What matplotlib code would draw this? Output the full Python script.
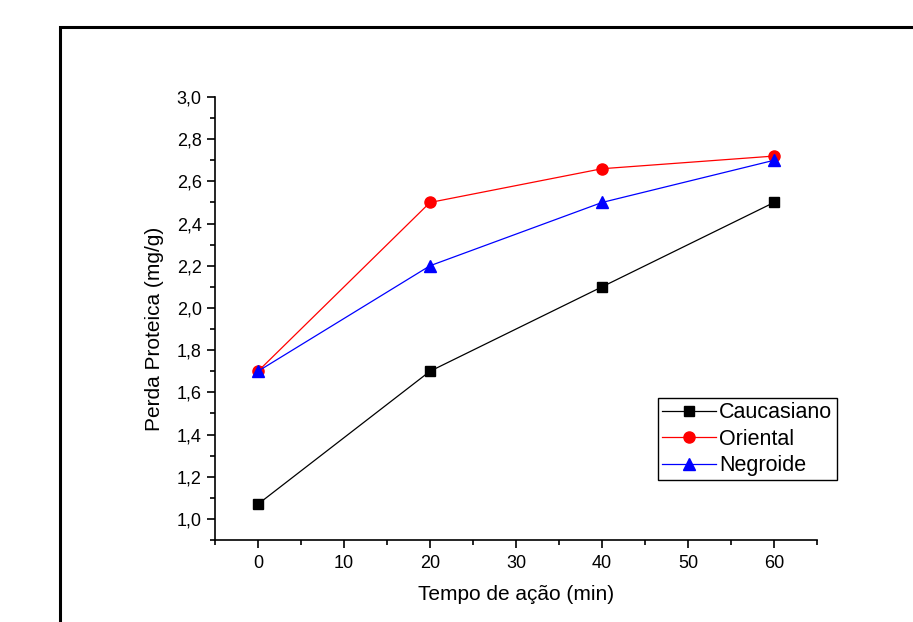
import numpy as np
import matplotlib.pyplot as plt
from matplotlib.patches import Rectangle
from matplotlib.ticker import MultipleLocator, FuncFormatter

plt.rcParams['font.family'] = ['Liberation Sans', 'DejaVu Sans']

tempo = [0, 20, 40, 60]
caucasiano = [1.07, 1.70, 2.10, 2.50]
oriental = [1.70, 2.50, 2.66, 2.72]
negroide = [1.70, 2.20, 2.50, 2.70]

W, H = 913, 622
fig = plt.figure(figsize=(W/100, H/100), dpi=100)

# outer frame (extends past the figure edge on right/bottom)
fig.patches.append(Rectangle((60/W, -0.1), 1.2, 1 - 27/H + 0.1,
                             transform=fig.transFigure, fill=False,
                             edgecolor='black', linewidth=2.2))

ax = fig.add_axes([215/W, 1 - 540/H, (817-215)/W, (540-97)/H])

ax.plot(tempo, caucasiano, '-s', color='black', lw=0.9, ms=7, label='Caucasiano')
ax.plot(tempo, oriental, '-o', color='red', lw=0.9, ms=8, label='Oriental')
ax.plot(tempo, negroide, '-^', color='blue', lw=0.9, ms=8, label='Negroide')

ax.set_xlim(-5, 65)
ax.set_ylim(0.9, 3.0)
ax.xaxis.set_major_locator(MultipleLocator(10))
ax.xaxis.set_minor_locator(MultipleLocator(5))
ax.yaxis.set_major_locator(MultipleLocator(0.2))
ax.yaxis.set_minor_locator(MultipleLocator(0.1))
ax.yaxis.set_major_formatter(FuncFormatter(lambda v, p: ('%.1f' % v).replace('.', ',')))

ax.spines['top'].set_visible(False)
ax.spines['right'].set_visible(False)
for s in ['left', 'bottom']:
    ax.spines[s].set_linewidth(1.2)
ax.tick_params(which='major', direction='out', length=6, width=1.2, labelsize=13)
ax.tick_params(axis='x', which='major', pad=5)
ax.tick_params(which='minor', direction='out', length=3.5, width=1.2)

ax.set_xlabel('Tempo de ação (min)', fontsize=15, labelpad=9)
ax.set_ylabel('Perda Proteica (mg/g)', fontsize=15)
ax.yaxis.set_label_coords(-0.085, 0.477)

leg = ax.legend(loc='upper left', bbox_to_anchor=(658/W, 1 - 398/H),
                bbox_transform=fig.transFigure, fontsize=15.5, fancybox=False,
                framealpha=1, edgecolor='black', borderpad=0.2,
                labelspacing=0.25, handlelength=2.5, handletextpad=0.15,
                borderaxespad=0)
leg.get_frame().set_linewidth(1.0)

plt.savefig('out.png', dpi=100)
